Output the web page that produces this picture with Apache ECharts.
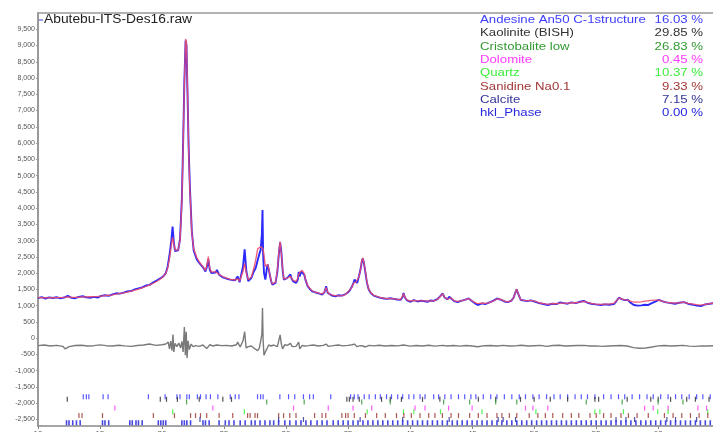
<!DOCTYPE html>
<html><head><meta charset="utf-8">
<script src="https://cdn.jsdelivr.net/npm/echarts@6/dist/echarts.min.js"></script>
<style>html,body{margin:0;padding:0;background:#fff}#c{width:713px;height:432px}</style>
</head><body><div id="c"></div>
<script>
// ---- Pattern data (2θ in degrees, intensity in counts) ----
const twoTheta = [10.0,10.3,10.6,10.9,11.2,11.5,11.8,12.1,12.4,12.7,13.0,13.3,13.6,13.9,14.2,14.5,14.8,15.1,15.4,15.7,16.0,16.3,16.6,16.9,17.2,17.5,17.8,18.1,18.4,18.7,19.0,19.3,19.6,19.9,20.1,20.3,20.45,20.6,20.75,20.85,20.95,21.05,21.15,21.3,21.45,21.6,21.7,21.8,21.9,21.97,22.05,22.15,22.25,22.4,22.55,22.8,23.05,23.3,23.5,23.62,23.73,23.85,24.0,24.15,24.3,24.43,24.6,24.75,24.9,25.1,25.3,25.5,25.7,25.9,26.09,26.25,26.4,26.53,26.66,26.8,26.95,27.05,27.2,27.4,27.55,27.71,27.85,27.95,28.05,28.1,28.15,28.22,28.33,28.45,28.52,28.65,28.8,28.9,29.05,29.15,29.3,29.42,29.52,29.62,29.72,29.82,29.95,30.08,30.2,30.35,30.45,30.57,30.7,30.82,30.95,31.02,31.1,31.21,31.3,31.37,31.47,31.56,31.74,31.9,32.1,32.3,32.5,32.7,32.91,33.1,33.23,33.35,33.5,33.7,33.98,34.2,34.52,34.75,34.93,35.1,35.33,35.45,35.52,35.62,35.73,35.87,36.0,36.1,36.19,36.28,36.4,36.52,36.67,36.85,37.07,37.3,37.61,37.9,38.15,38.4,38.69,38.95,39.23,39.38,39.47,39.58,39.75,40.04,40.3,40.6,40.85,41.09,41.4,41.65,41.89,42.2,42.45,42.62,42.78,43.02,43.15,43.3,43.55,43.83,44.1,44.4,44.72,44.95,45.2,45.45,45.8,46.05,46.25,46.5,46.8,47.0,47.14,47.35,47.6,47.87,48.15,48.35,48.5,48.59,48.7,48.92,49.2,49.45,49.73,50.1,50.4,50.75,51.1,51.45,51.8,52.1,52.39,52.7,53.0,53.35,53.7,54.0,54.3,54.6,54.95,55.38,55.7,56.05,56.43,56.65,56.83,57.05,57.3,57.56,57.8,58.04,58.35,58.65,58.9,59.17,59.45,59.8,60.06,60.3,60.65,61.03,61.35,61.7,62.08,62.4,62.8,63.1,63.45,63.8,64.15,64.5];
const yObs = [1230,1265,1220,1255,1235,1260,1225,1250,1300,1240,1230,1270,1290,1255,1240,1270,1250,1300,1320,1300,1350,1380,1370,1400,1440,1450,1500,1530,1560,1620,1640,1720,1780,1850,1900,2000,2200,2550,3000,3430,2950,2680,2620,2700,3050,4300,6000,7900,9150,9000,7600,5800,4600,3300,2700,2420,2290,2180,2050,2200,2420,2100,2000,1960,2020,2100,1950,1900,1870,1850,1820,1800,1790,1780,1900,1720,1780,2210,2730,2050,1760,1700,1850,2050,2160,2400,2600,2710,3200,3940,2600,2010,1800,2150,2270,2020,1750,1650,1680,1700,2050,2600,2950,2650,2100,1800,1820,1850,1830,1960,1830,1750,1720,1700,1800,2040,1900,2050,2080,2100,1950,1800,1600,1520,1440,1420,1390,1370,1340,1420,1600,1400,1340,1310,1290,1320,1310,1350,1390,1450,1600,1720,1800,1750,1700,1900,2110,2350,2455,2300,2010,1700,1490,1380,1310,1280,1240,1220,1210,1230,1210,1190,1180,1260,1390,1250,1160,1120,1170,1130,1150,1145,1120,1160,1145,1200,1300,1380,1250,1195,1275,1240,1140,1110,1150,1180,1225,1150,1080,1020,1070,1050,1080,1120,1170,1220,1255,1180,1130,1110,1150,1250,1420,1500,1380,1175,1160,1140,1165,1120,1080,1050,1020,1060,1050,1100,1080,1060,1100,1080,1120,1145,1090,1060,1040,1020,1040,1030,1050,1150,1245,1200,1170,1175,1080,1020,1000,1010,1030,1020,1070,1130,1175,1140,1100,1080,1060,1090,1110,1060,1030,1000,990,1040,1060,1080];
const yCalc = [1250,1245,1240,1240,1245,1245,1250,1255,1270,1255,1255,1260,1270,1270,1275,1280,1285,1295,1310,1320,1335,1355,1375,1395,1420,1450,1480,1510,1550,1590,1640,1690,1750,1830,1900,1990,2150,2450,2850,3100,2900,2700,2650,2720,3000,4200,5900,7800,9200,9100,7700,5700,4500,3250,2750,2480,2320,2200,2080,2250,2510,2150,2030,1990,2050,2100,1960,1920,1890,1860,1830,1810,1800,1790,1830,1760,1800,2050,2300,2000,1800,1760,1880,2150,2400,2750,2800,2810,2850,2870,2750,2550,2210,2250,2270,2050,1760,1670,1690,1720,2100,2650,2970,2600,2150,1820,1830,1850,1870,1900,1860,1780,1740,1750,1850,1950,2020,2050,2090,2100,1980,1820,1620,1540,1460,1420,1400,1380,1360,1430,1560,1420,1350,1330,1310,1300,1310,1340,1400,1470,1580,1700,1760,1720,1720,1880,2100,2380,2470,2320,2050,1720,1500,1390,1320,1290,1250,1230,1220,1220,1210,1200,1190,1280,1370,1260,1180,1140,1160,1150,1150,1150,1140,1150,1150,1190,1290,1370,1260,1200,1260,1240,1150,1130,1150,1180,1220,1160,1100,1060,1080,1070,1080,1110,1160,1210,1250,1190,1140,1120,1150,1250,1420,1510,1380,1180,1160,1150,1160,1130,1090,1060,1040,1060,1060,1080,1080,1070,1090,1090,1110,1130,1100,1070,1050,1040,1050,1050,1070,1160,1240,1210,1180,1170,1130,1110,1110,1120,1140,1150,1160,1170,1170,1140,1100,1090,1080,1090,1110,1070,1050,1030,1020,1040,1060,1080];
const diffTheta = [10.0,10.5,11.0,11.5,12.0,12.2,12.5,13.0,13.5,14.0,14.5,15.0,15.5,16.0,16.5,17.0,17.5,18.0,18.5,19.0,19.5,20.0,20.3,20.5,20.6,20.7,20.8,20.88,20.95,21.05,21.2,21.35,21.5,21.6,21.7,21.8,21.88,21.95,22.02,22.1,22.2,22.35,22.5,22.7,23.0,23.3,23.6,23.73,23.85,24.1,24.4,24.8,25.2,25.6,26.0,26.1,26.3,26.53,26.66,26.78,26.95,27.2,27.5,27.71,27.85,27.95,28.05,28.1,28.15,28.22,28.33,28.45,28.6,28.8,29.0,29.3,29.42,29.52,29.62,29.72,29.9,30.1,30.35,30.5,30.8,31.02,31.1,31.3,31.5,31.8,32.2,32.6,33.0,33.23,33.4,33.8,34.2,34.6,35.0,35.33,35.52,35.7,36.0,36.19,36.4,36.7,37.1,37.5,38.0,38.5,39.0,39.47,40.0,40.5,41.0,41.5,42.0,42.62,43.0,43.5,44.0,44.5,45.0,45.45,46.0,46.5,47.0,47.5,48.0,48.59,49.0,49.5,50.0,50.5,51.0,51.5,52.0,52.5,53.0,53.5,54.0,54.5,55.0,55.5,56.0,56.5,57.0,57.5,58.0,58.5,59.0,59.5,60.0,60.5,61.0,61.5,62.0,62.5,63.0,63.5,64.0,64.5];
const yDiff = [-230,-210,-240,-220,-250,-330,-260,-225,-215,-240,-230,-205,-230,-240,-215,-235,-250,-225,-210,-180,-220,-200,-180,-120,-330,-90,-380,110,-420,-160,-260,-150,-300,-100,-420,340,-520,200,-610,-80,-350,-180,-260,-230,-250,-210,-320,-330,-200,-240,-210,-230,-220,-240,-200,-120,-270,-80,200,-300,-260,-240,-330,-380,-300,-330,120,930,-80,-520,-420,-330,-210,-240,-210,-260,-300,100,-180,-330,-200,-220,-160,-260,-250,-120,-330,-220,-240,-230,-210,-240,-220,-180,-250,-230,-210,-235,-220,-200,-180,-260,-230,-240,-270,-220,-235,-215,-240,-225,-235,-210,-245,-225,-240,-215,-245,-220,-240,-225,-245,-225,-240,-265,-230,-225,-240,-220,-240,-230,-215,-240,-230,-220,-250,-225,-215,-240,-230,-225,-220,-240,-235,-250,-240,-230,-225,-240,-290,-310,-300,-270,-235,-225,-240,-230,-220,-245,-250,-235,-240,-230];

// ---- Axis tick labels ----
const yTickLabels = [-2500,-2000,-1500,-1000,-500,0,500,1000,1500,2000,2500,3000,3500,4000,4500,5000,5500,6000,6500,7000,7500,8000,8500,9000,9500];
const xTickLabels = [10,15,20,25,30,35,40,45,50,55,60];

// ---- Phases (legend) ----
const sampleName = 'Abutebu-ITS-Des16.raw';
const phaseNames = ['Andesine An50 C-1structure','Kaolinite (BISH)','Cristobalite low','Dolomite','Quartz','Sanidine Na0.1','Calcite','hkl_Phase'];
const phasePercents = ['16.03 %','29.85 %','26.83 %','0.45 %','10.37 %','9.33 %','7.15 %','0.00 %'];
const phaseColors = ['#3c3cff','#333333','#339933','#ff3cff','#3cee3c','#a03838','#353598','#2626dd'];

// ---- hkl tick positions (2θ) per phase ----
const andesineTicks = [13.65,13.9,14.1,15.25,15.65,18.9,20.25,21.2,21.45,22.0,22.2,22.85,23.1,23.55,23.9,24.5,25.5,25.9,26.2,27.7,27.95,28.15,29.5,30.2,30.7,31.4,31.9,32.2,33.6,35.2,35.5,35.8,36.3,36.7,37.2,37.6,38.1,38.5,39.0,39.4,39.9,40.3,40.8,41.2,41.9,42.3,42.8,43.3,43.9,44.4,44.9,45.3,45.9,46.5,47.0,47.6,48.2,48.8,49.3,49.9,50.4,51.0,51.6,52.1,52.7,53.3,53.8,54.3,54.9,55.6,56.2,56.8,57.3,57.9,58.5,59.1,59.6,60.2,60.8,61.4,61.9,62.5,63.1,63.6,64.2];
const kaoliniteTicks = [12.36,19.86,20.36,21.24,23.0,24.9,25.6,34.9,35.1,35.4,35.9,37.7,38.4,39.3,41.0,42.4,45.5,46.9,48.9,50.0,51.3,52.7,54.9,55.2,57.5,59.4,60.0,61.0,62.3,63.0,64.1];
const cristobaliteTicks = [21.98,28.44,31.46,36.1,38.4,42.7,44.8,46.9,48.6,54.2,57.1,60.0,62.0,64.8];
const dolomiteTicks = [16.2,24.1,30.6,33.4,35.4,36.9,40.4,41.2,43.1,45.0,49.3,49.9,51.1,58.9,59.6,60.8,63.2,63.9];
const quartzTicks = [20.86,26.64,36.54,39.46,40.3,42.45,45.8,50.14,54.9,55.3,57.2,59.96,60.8,64.0];
const sanidineTicks = [13.3,13.55,15.2,19.3,21.0,22.3,22.7,23.1,23.6,24.6,25.7,26.9,27.1,27.5,27.7,29.4,29.8,30.3,30.8,32.3,32.9,33.2,34.5,34.8,35.0,35.5,36.4,37.3,38.0,38.9,39.5,40.1,40.8,41.5,42.0,42.6,43.3,43.9,44.8,45.5,46.2,47.0,47.4,48.0,48.6,49.6,50.3,50.9,51.5,52.3,53.0,53.6,54.5,55.0,55.6,56.2,57.0,57.6,58.3,59.2,60.5,61.2,61.9,62.6,63.3,64.0];
const calciteTicks = [23.06,29.4,31.4,35.97,39.4,43.15,47.1,47.5,48.5,56.6,57.4,58.1,60.7,61.4,63.1,64.7];
const hklTicks = [12.3,12.5,12.8,13.1,13.4,15.2,15.4,15.7,17.4,17.6,17.9,18.1,18.4,19.7,19.9,20.1,20.3,21.6,21.8,22.0,22.3,23.3,23.5,23.8,24.6,25.1,25.4,25.8,26.3,26.7,27.2,27.5,27.9,28.3,28.7,29.0,29.4,29.9,30.3,30.8,31.2,31.6,32.0,32.5,32.9,33.3,33.8,34.2,34.6,35.0,35.4,35.8,36.2,36.6,37.0,37.4,37.8,38.2,38.6,39.0,39.4,39.8,40.2,40.6,41.0,41.4,41.8,42.2,42.6,43.0,43.4,43.8,44.2,44.6,45.0,45.4,45.8,46.2,46.6,47.0,47.4,47.8,48.2,48.6,49.0,49.4,49.8,50.2,50.6,51.0,51.4,51.8,52.2,52.6,53.0,53.4,53.8,54.2,54.6,55.0,55.4,55.8,56.2,56.6,57.0,57.4,57.8,58.2,58.6,59.0,59.4,59.8,60.2,60.6,61.0,61.4,61.8,62.2,62.6,63.0,63.4,63.8,64.2];
const phaseTicks = [andesineTicks,kaoliniteTicks,cristobaliteTicks,dolomiteTicks,quartzTicks,sanidineTicks,calciteTicks,hklTicks];
const tickRowLevels = [-1800,-1880,-1960,-2150,-2260,-2380,-2500,-2600];

// ---- Build chart ----
const FONT = "'Liberation Sans', Arial, sans-serif";
const chart = echarts.init(document.getElementById('c'), null, {renderer:'canvas'});

const tickSeries = phaseTicks.map((arr, k) => ({
  type:'scatter', name: phaseNames[k], symbol:'rect', symbolSize: k === 7 ? [1.6,5] : [1.2,5],
  itemStyle:{color: phaseColors[k], opacity:0.85}, z: 1, silent:true,
  data: arr.map(t => [t, tickRowLevels[k]])
}));

const graphics = [
  {type:'line', shape:{x1:39,y1:20,x2:43,y2:20}, style:{stroke:'#5a5ad0', lineWidth:1.2}},
  {type:'text', x:44, y:20, scaleX:1.15, style:{text:sampleName, fill:'#222', font:'12px '+FONT, verticalAlign:'middle', align:'left'}}
];
phaseNames.forEach((n, i) => {
  const y = 20 + i*13.3;
  graphics.push({type:'text', x:480, y:y, scaleX:1.2, style:{text:n, fill:phaseColors[i], font:'11px '+FONT, verticalAlign:'middle', align:'left'}});
  graphics.push({type:'text', x:703, y:y, scaleX:1.2, style:{text:phasePercents[i], fill:phaseColors[i], font:'11px '+FONT, verticalAlign:'middle', align:'right'}});
});

chart.setOption({
  animation:false,
  backgroundColor:'#fff',
  grid:{left:38, top:13, right:-1, bottom:6, containLabel:false, outerBoundsMode:'none'},
  xAxis:[
    {type:'value', min:10, max:64.5, interval:5, position:'bottom',
     axisLine:{show:true, onZero:false, lineStyle:{color:'#888', width:1.5}},
     axisTick:{show:true, length:3, lineStyle:{color:'#888'}, customValues:xTickLabels},
     axisLabel:{fontSize:8, margin:4, color:'#555', fontFamily:FONT, customValues:xTickLabels},
     splitLine:{show:false}},
    {type:'value', min:10, max:64.5, position:'top',
     axisLine:{show:true, onZero:false, lineStyle:{color:'#999', width:1.5}},
     axisTick:{show:false}, axisLabel:{show:false}, splitLine:{show:false}}
  ],
  yAxis:{type:'value', min:-2700, max:10000,
    axisLine:{show:true, onZero:false, lineStyle:{color:'#999', width:2}},
    axisTick:{show:true, length:2, lineStyle:{color:'#999'}, customValues:yTickLabels},
    axisLabel:{customValues:yTickLabels, fontSize:7, color:'#555', margin:3, fontFamily:FONT,
      formatter:v => Number(v).toLocaleString('en-US')},
    splitLine:{show:false}},
  graphic: graphics,
  series:[
    {type:'line', name:'Yobs', data: twoTheta.map((t,i)=>[t,yObs[i]]), showSymbol:false, symbol:'none',
     lineStyle:{color:'#2a2aff', width:1.9}, z:2, silent:true},
    {type:'line', name:'Ycalc', data: twoTheta.map((t,i)=>[t,yCalc[i]]), showSymbol:false, symbol:'none',
     lineStyle:{color:'#ec4a6c', width:1.3, opacity:0.9}, z:3, silent:true},
    {type:'line', name:'Diff', data: diffTheta.map((t,i)=>[t,yDiff[i]]), showSymbol:false, symbol:'none',
     lineStyle:{color:'#7a7a7a', width:1.4}, z:2, silent:true},
    ...tickSeries
  ]
});
</script>
</body></html>
